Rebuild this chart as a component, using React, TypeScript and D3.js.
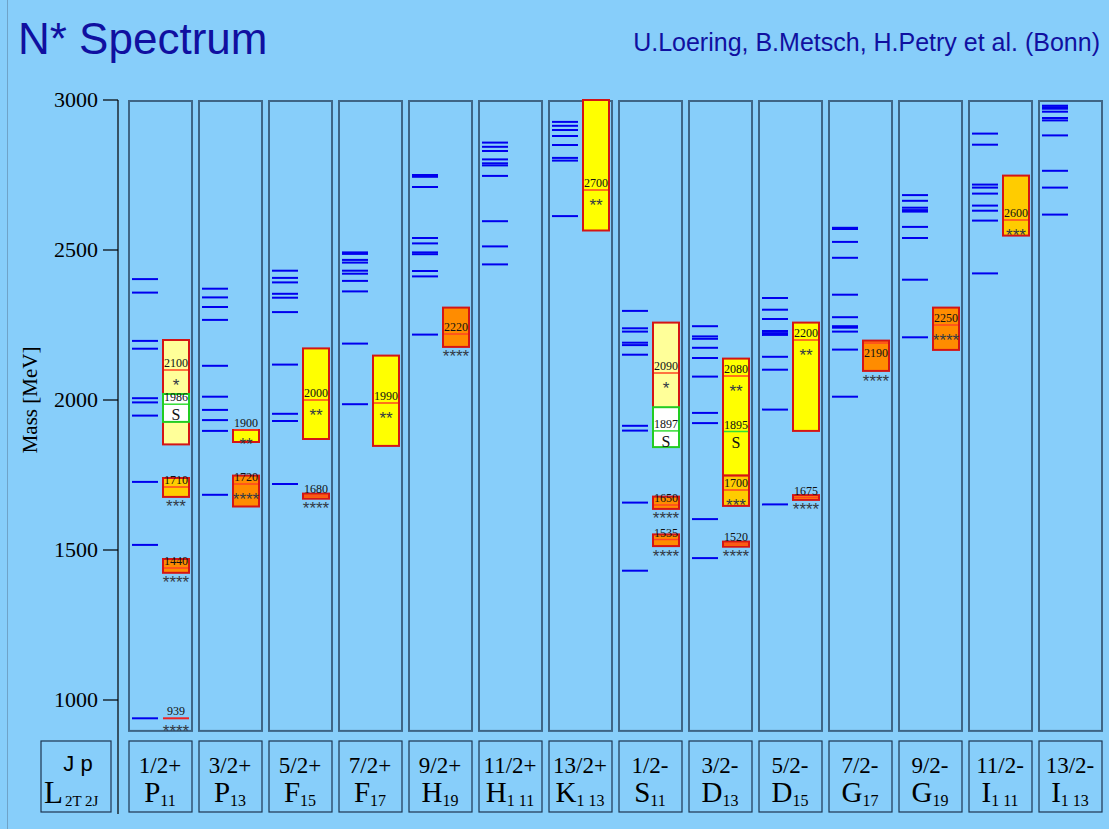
import React from 'react';
import * as d3 from 'd3';

// ---------- data ----------
const columnKeys = ['P11', 'P13', 'F15', 'F17', 'H19', 'H111', 'K113', 'S11', 'D13', 'D15', 'G17', 'G19', 'I111', 'I113'];
const jpLabels = ['1/2+', '3/2+', '5/2+', '7/2+', '9/2+', '11/2+', '13/2+', '1/2-', '3/2-', '5/2-', '7/2-', '9/2-', '11/2-', '13/2-'];
const waveLetters = ['P', 'P', 'F', 'F', 'H', 'H', 'K', 'S', 'D', 'D', 'G', 'G', 'I', 'I'];
const waveSubs = ['11', '13', '15', '17', '19', '1 11', '1 13', '11', '13', '15', '17', '19', '1 11', '1 13'];
const massTicks = [1000, 1500, 2000, 2500, 3000];

// model (Bonn) masses, MeV
const modelP11 = [939, 1517, 1727, 1948, 1992, 2006, 2171, 2197, 2358, 2403];
const modelP13 = [1684, 1897, 1933, 1967, 2011, 2114, 2267, 2310, 2342, 2371];
const modelF15 = [1720, 1930, 1954, 2118, 2293, 2341, 2354, 2392, 2407, 2431];
const modelF17 = [1986, 2188, 2362, 2397, 2421, 2431, 2458, 2467, 2487, 2492];
const modelH19 = [2218, 2412, 2430, 2486, 2492, 2522, 2540, 2710, 2744, 2750];
const modelH111 = [2452, 2512, 2596, 2747, 2782, 2789, 2802, 2830, 2844, 2858];
const modelK113 = [2613, 2798, 2807, 2850, 2880, 2900, 2914, 2927];
const modelS11 = [1431, 1658, 1898, 1914, 2151, 2183, 2191, 2228, 2239, 2297];
const modelD13 = [1473, 1603, 1923, 1957, 2078, 2140, 2174, 2204, 2212, 2246];
const modelD15 = [1652, 1968, 2101, 2144, 2217, 2223, 2230, 2270, 2301, 2340];
const modelG17 = [2011, 2168, 2228, 2241, 2246, 2276, 2351, 2474, 2527, 2570, 2574];
const modelG19 = [2209, 2401, 2540, 2577, 2628, 2633, 2641, 2664, 2683];
const modelI111 = [2422, 2598, 2631, 2648, 2688, 2708, 2718, 2851, 2888];
const modelI113 = [2618, 2708, 2764, 2882, 2932, 2940, 2961, 2971, 2976, 2981];
const modelMasses = [modelP11, modelP13, modelF15, modelF17, modelH19, modelH111, modelK113,
  modelS11, modelD13, modelD15, modelG17, modelG19, modelI111, modelI113];

// experimental (PDG) states: column, mass, lower, upper, stars
const pdgStates = [
  { col: 'P11', mass: 939, lo: 939, hi: 939, stars: 4 },
  { col: 'P11', mass: 1440, lo: 1424, hi: 1470, stars: 4 },
  { col: 'P11', mass: 1710, lo: 1677, hi: 1740, stars: 3 },
  { col: 'P11', mass: 2100, lo: 1852, hi: 2200, stars: 1 },
  { col: 'P13', mass: 1720, lo: 1645, hi: 1748, stars: 4 },
  { col: 'P13', mass: 1900, lo: 1860, hi: 1900, stars: 2 },
  { col: 'F15', mass: 1680, lo: 1671, hi: 1688, stars: 4 },
  { col: 'F15', mass: 2000, lo: 1870, hi: 2172, stars: 2 },
  { col: 'F17', mass: 1990, lo: 1847, hi: 2148, stars: 2 },
  { col: 'H19', mass: 2220, lo: 2177, hi: 2308, stars: 4 },
  { col: 'K113', mass: 2700, lo: 2565, hi: 3000, stars: 2 },
  { col: 'S11', mass: 1535, lo: 1513, hi: 1552, stars: 4 },
  { col: 'S11', mass: 1650, lo: 1637, hi: 1678, stars: 4 },
  { col: 'S11', mass: 2090, lo: 1855, hi: 2258, stars: 1 },
  { col: 'D13', mass: 1520, lo: 1511, hi: 1528, stars: 4 },
  { col: 'D13', mass: 2080, lo: 1748, hi: 2138, stars: 2 },
  { col: 'D13', mass: 1700, lo: 1647, hi: 1748, stars: 3 },
  { col: 'D15', mass: 1675, lo: 1667, hi: 1683, stars: 4 },
  { col: 'D15', mass: 2200, lo: 1897, hi: 2258, stars: 2 },
  { col: 'G17', mass: 2190, lo: 2097, hi: 2198, stars: 4 },
  { col: 'G19', mass: 2250, lo: 2167, hi: 2308, stars: 4 },
  { col: 'I111', mass: 2600, lo: 2548, hi: 2748, stars: 3 },
];

// SAPHIR "S" candidates: column, mass, optional box range
const saphirStates = [
  { col: 'P11', mass: 1986, lo: 1927, hi: 2020 },
  { col: 'S11', mass: 1897, lo: 1843, hi: 1976 },
  { col: 'D13', mass: 1895, lo: null, hi: null },
];

// ---------- styles ----------
const BG = '#87CEFA';
const SERIF = '"Liberation Serif", "Times New Roman", serif';
const SANS = '"Liberation Sans", Arial, sans-serif';
const starFill: Record<number, string> = { 1: '#FFFF99', 2: '#FFFF00', 3: '#FFCC00', 4: '#FF8C00' };

export default function App() {
  const W = 1109, H = 829;
  const y = d3.scaleLinear().domain([900, 3000]).range([730, 100]);
  const x = d3.scaleBand<string>().domain(columnKeys).range([128, 1102]).paddingInner(6 / 70).paddingOuter(0);
  const colBottom = y(897);
  const colTop = y(3000) + 1;
  const labelTop = 741, labelBot = 812;

  return (
    <svg width={W} height={H} style={{ position: 'absolute', left: 0, top: 0, display: 'block' }}>
      <rect x={0} y={0} width={W} height={H} fill={BG} />
      <line x1={7.5} y1={0} x2={7.5} y2={H} stroke="#6fa3c8" strokeWidth={1} />
      <text x={18} y={54} fontFamily={SANS} fontSize={44} fill="#1010a0">N* Spectrum</text>
      <text x={1100} y={51} fontFamily={SANS} fontSize={25} fill="#1010a0" textAnchor="end">U.Loering, B.Metsch, H.Petry et al. (Bonn)</text>

      {/* y axis */}
      <line x1={118} y1={y(3000)} x2={118} y2={labelBot + 2} stroke="#000" strokeWidth={1.2} />
      {massTicks.map(t => (
        <g key={t}>
          <line x1={103} x2={118} y1={y(t)} y2={y(t)} stroke="#000" strokeWidth={1.2} />
          <text x={98} y={y(t) + 7} textAnchor="end" fontFamily={SERIF} fontSize={22} fill="#000">{t}</text>
        </g>
      ))}
      <text transform={`translate(37,${y(2000)}) rotate(-90)`} textAnchor="middle" fontFamily={SERIF} fontSize={21} fill="#000">Mass [MeV]</text>

      {/* columns */}
      {columnKeys.map((k, i) => {
        const cx = x(k)!;
        return (
          <g key={k}>
            <rect x={cx + 1} y={colTop} width={63} height={colBottom - colTop} fill={BG} stroke="#3f6585" strokeWidth={2} />
            {modelMasses[i].map((m, j) => (
              <line key={j} x1={cx + 4} x2={cx + 30} y1={y(m)} y2={y(m)} stroke="#0000ee" strokeWidth={2} />
            ))}
          </g>
        );
      })}

      {/* PDG states */}
      {pdgStates.map((s, i) => {
        const cx = x(s.col)!;
        const bx = cx + 35, bw = 26, mid = bx + bw / 2;
        const ym = y(s.mass);
        const stars = '*'.repeat(s.stars);
        const below = (s.hi - s.mass) < 15 && (s.mass - s.lo) > 60;
        const labelY = below ? ym + 14 : ym - 3;
        let starC: number;
        if (s.lo === s.hi) starC = ym + 9;
        else if (below) starC = y(s.lo) + 7;
        else if (s.hi === s.mass) starC = ym + 10;
        else if (y(s.lo) - ym < 14) starC = y(s.lo) + 6;
        else starC = ym + 11;
        return (
          <g key={i}>
            {s.lo === s.hi ? (
              <line x1={bx} x2={bx + bw} y1={ym} y2={ym} stroke="#ee2222" strokeWidth={2} />
            ) : (
              <>
                <rect x={bx} y={y(s.hi)} width={bw} height={y(s.lo) - y(s.hi)} fill={starFill[s.stars]} stroke="#d41515" strokeWidth={2} />
                <line x1={bx + 1} x2={bx + bw - 1} y1={ym} y2={ym} stroke="#ff4422" strokeWidth={1.5} />
              </>
            )}
            <text x={mid} y={labelY} textAnchor="middle" fontFamily={SERIF} fontSize={12} fill="#111">{s.mass}</text>
            <text x={mid} y={starC + 9.5} textAnchor="middle" fontFamily={SANS} fontSize={17} fill="#333a44">{stars}</text>
          </g>
        );
      })}

      {/* SAPHIR states */}
      {saphirStates.map((s, i) => {
        const cx = x(s.col)!;
        const bx = cx + 35, bw = 26, mid = bx + bw / 2;
        const ym = y(s.mass);
        return (
          <g key={i}>
            {s.lo !== null && s.hi !== null && (
              <rect x={bx} y={y(s.hi)} width={bw} height={y(s.lo) - y(s.hi)} fill="#ffffff" stroke="#22cc22" strokeWidth={2} />
            )}
            <line x1={bx + 1} x2={bx + bw - 1} y1={ym} y2={ym} stroke="#33dd33" strokeWidth={1.5} />
            <text x={mid} y={ym - 3} textAnchor="middle" fontFamily={SERIF} fontSize={12} fill="#111">{s.mass}</text>
            <text x={mid} y={ym + 16} textAnchor="middle" fontFamily={SERIF} fontSize={16} fill="#111">S</text>
          </g>
        );
      })}

      {/* bottom labels */}
      <rect x={41} y={labelTop} width={70} height={labelBot - labelTop} fill="none" stroke="#1d3550" strokeWidth={1.2} />
      <text x={78} y={771} textAnchor="middle" fontFamily={SANS} fontSize={22} fill="#000">J p</text>
      <text x={44} y={803} fontFamily={SERIF} fontSize={31} fill="#000">L<tspan fontSize={15} dx={2} dy={3}>2T 2J</tspan></text>
      {columnKeys.map((k, i) => {
        const cx = x(k)!;
        const mid = cx + 32;
        return (
          <g key={k}>
            <rect x={cx + 1} y={labelTop} width={63} height={labelBot - labelTop} fill="none" stroke="#1d3550" strokeWidth={1.2} />
            <text x={mid} y={773} textAnchor="middle" fontFamily={SERIF} fontSize={23} fill="#000">{jpLabels[i]}</text>
            <text x={mid} y={802} textAnchor="middle" fontFamily={SERIF} fontSize={29} fill="#000">
              {waveLetters[i]}<tspan fontSize={16} dy={4}>{waveSubs[i]}</tspan>
            </text>
          </g>
        );
      })}
    </svg>
  );
}
